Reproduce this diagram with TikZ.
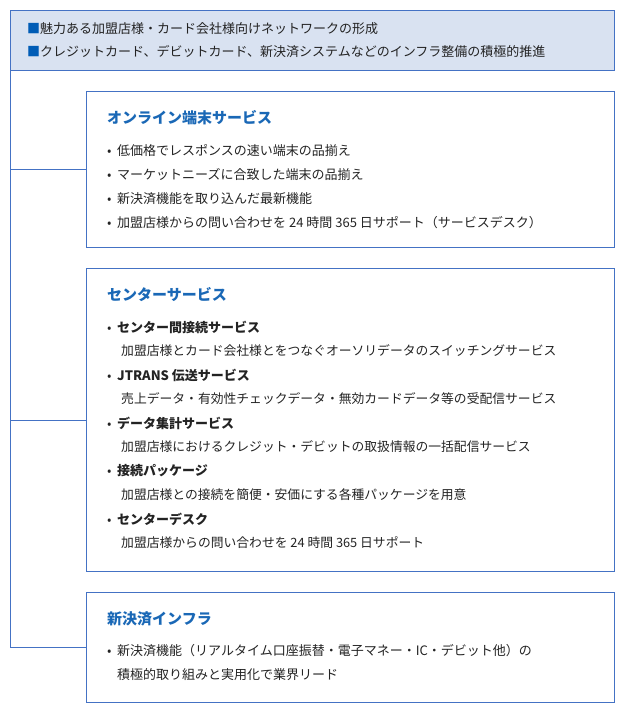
\documentclass[tikz,border=0pt]{standalone}
\usepackage{fontspec}
\setmainfont{Noto Sans CJK JP}
\usetikzlibrary{positioning}

\definecolor{frameblue}{RGB}{68,114,196}
\definecolor{headfill}{RGB}{217,226,241}
\definecolor{titleblue}{RGB}{26,104,182}
\definecolor{squareblue}{RGB}{0,92,182}
\definecolor{textgray}{RGB}{35,35,35}

\newcommand{\dotmark}{\makebox[10pt][l]{\mdseries •}}

\begin{document}
\begin{tikzpicture}[x=1pt,y=-1pt,
  frame/.style={draw=frameblue,line width=1pt,inner sep=0pt,anchor=north west},
  link/.style={draw=frameblue,line width=1pt},
  txt/.style={anchor=west,inner sep=0pt,text=textgray,font=\fontsize{13}{15}\selectfont},
  subtxt/.style={txt,font=\fontsize{12.8}{15}\selectfont},
  boldtxt/.style={txt,font=\fontsize{13}{15}\selectfont\bfseries},
  ttl/.style={anchor=west,inner sep=0pt,text=titleblue,font=\fontsize{15}{18}\selectfont\bfseries}]

\useasboundingbox (0,0) rectangle (625,713);

% Policy box on top
\node [frame, fill=headfill, minimum width=604pt, minimum height=60pt] (head) at (10,10) {};
\node [txt] (goal1) at (27,29) {\textcolor{squareblue}{■}魅力ある加盟店様・カード会社様向けネットワークの形成};
\node [txt] (goal2) at (27,52) {\textcolor{squareblue}{■}クレジットカード、デビットカード、新決済システムなどのインフラ整備の積極的推進};

% The three service boxes
\node [frame, minimum width=528pt, minimum height=156pt] (term) at (86,91) {};
\node [frame, minimum width=528pt, minimum height=303pt] (center) at (86,268) {};
\node [frame, minimum width=528pt, minimum height=110pt] (infra) at (86,592) {};

% Tree lines
\draw [link] (head.south west) -- (head.south west |- infra.west) -- (infra.west);
\draw [link] (head.south west |- term.west) -- (term.west);
\draw [link] (head.south west |- center.west) -- (center.west);

% Online terminal services
\node [ttl] (term-title) at (107,118) {オンライン端末サービス};
\foreach \lab [count=\i from 0] in {
  低価格でレスポンスの速い端末の品揃え,
  マーケットニーズに合致した端末の品揃え,
  新決済機能を取り込んだ最新機能,
  加盟店様からの問い合わせを 24 時間 365 日サポート（サービスデスク）} {
  \node [txt] (term-\i) at (107,151+23.7*\i) {\dotmark\lab};
}

% Center services
\node [ttl] (center-title) at (107,295) {センターサービス};
\foreach \hd/\dt [count=\i from 0] in {
  センター間接続サービス/加盟店様とカード会社様とをつなぐオーソリデータのスイッチングサービス,
  JTRANS 伝送サービス/売上データ・有効性チェックデータ・無効カードデータ等の受配信サービス,
  データ集計サービス/加盟店様におけるクレジット・デビットの取扱情報の一括配信サービス,
  接続パッケージ/加盟店様との接続を簡便・安価にする各種パッケージを用意,
  センターデスク/加盟店様からの問い合わせを 24 時間 365 日サポート} {
  \node [boldtxt] (center-hd-\i) at (107,327+48*\i) {\dotmark\hd};
  \node [subtxt] (center-dt-\i) at (121,351+48*\i) {\dt};
}

% New payment infrastructure
\node [ttl] (infra-title) at (107,619) {新決済インフラ};
\node [txt] (infra-1) at (107,651) {\dotmark 新決済機能（リアルタイム口座振替・電子マネー・IC・デビット他）の};
\node [txt] (infra-2) at (117,675) {積極的取り組みと実用化で業界リード};

\end{tikzpicture}
\end{document}
